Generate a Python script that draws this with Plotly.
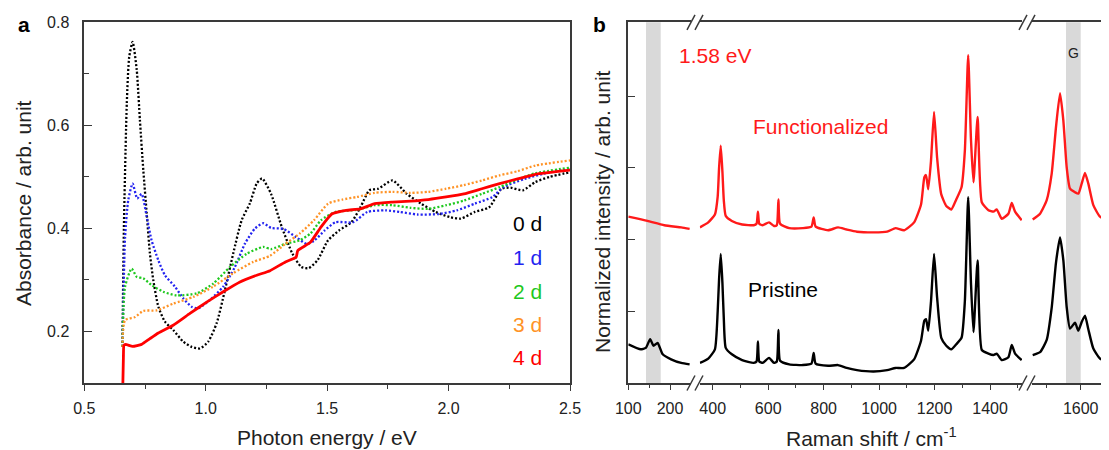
import plotly.graph_objects as go

# page body adds an 8px margin; figure is sized so that it fills the 1109x450 window exactly
OFF = 8
W, H = 1109 - OFF, 450 - OFF

# ---------------- Panel a data (Photon energy / eV vs Absorbance) ----------------
e0 = [0.657, 0.663, 0.675, 0.685, 0.699, 0.716, 0.729, 0.743, 0.757, 0.77, 0.784, 0.805, 0.832, 0.866, 0.908,
      0.942, 0.976, 1.01, 1.045, 1.079, 1.113, 1.148, 1.182, 1.21, 1.232, 1.269, 1.313, 1.357, 1.394, 1.424, 1.46,
      1.504, 1.549, 1.6, 1.637, 1.674, 1.71, 1.769, 1.828, 1.887, 1.946, 2.005, 2.05, 2.108, 2.167, 2.218, 2.255,
      2.306, 2.357, 2.416, 2.5]
a0 = [0.17, 0.40, 0.643, 0.733, 0.762, 0.707, 0.61, 0.513, 0.429, 0.352, 0.3, 0.248, 0.219, 0.203, 0.18,
      0.17, 0.167, 0.18, 0.216, 0.28, 0.351, 0.416, 0.449, 0.487, 0.497, 0.467, 0.403, 0.351, 0.325, 0.323, 0.338,
      0.377, 0.396, 0.412, 0.441, 0.474, 0.477, 0.493, 0.467, 0.448, 0.432, 0.422, 0.419, 0.432, 0.441, 0.477, 0.479,
      0.474, 0.49, 0.5, 0.509]

e1 = [0.657, 0.668, 0.681, 0.699, 0.718, 0.736, 0.757, 0.777, 0.805, 0.832, 0.873, 0.908, 0.942, 0.969, 1.017,
      1.072, 1.12, 1.162, 1.203, 1.237, 1.269, 1.32, 1.372, 1.416, 1.446, 1.49, 1.534, 1.607, 1.666,
      1.74, 1.799, 1.872, 1.96, 2.034, 2.108, 2.181, 2.225, 2.313, 2.416, 2.5]
a1 = [0.17, 0.384, 0.455, 0.487, 0.458, 0.467, 0.423, 0.377, 0.338, 0.309, 0.287, 0.264, 0.248, 0.245, 0.261,
      0.287, 0.325, 0.371, 0.4, 0.41, 0.401, 0.399, 0.383, 0.37, 0.376, 0.396, 0.412, 0.412, 0.432,
      0.435, 0.432, 0.427, 0.428, 0.435, 0.448, 0.461, 0.48, 0.496, 0.509, 0.515]

e2 = [0.657, 0.668, 0.695, 0.716, 0.743, 0.777, 0.825, 0.88, 0.963, 1.031, 1.1, 1.169, 1.237,
      1.269, 1.328, 1.387, 1.431, 1.475, 1.534, 1.622, 1.696, 1.769, 1.843, 1.916, 1.99, 2.063, 2.137, 2.21,
      2.284, 2.357, 2.5]
a2 = [0.17, 0.287, 0.322, 0.306, 0.303, 0.29, 0.277, 0.27, 0.274, 0.293, 0.325, 0.351, 0.364,
      0.36, 0.37, 0.377, 0.39, 0.416, 0.432, 0.436, 0.445, 0.445, 0.44, 0.438, 0.445, 0.454, 0.467, 0.48,
      0.495, 0.507, 0.518]

e3 = [0.657, 0.668, 0.709, 0.743, 0.798, 0.866, 0.949, 1.031, 1.113, 1.196, 1.265, 1.328, 1.387,
      1.446, 1.504, 1.563, 1.622, 1.696, 1.769, 1.843, 1.916, 1.99, 2.063, 2.137, 2.21, 2.284, 2.357, 2.5]
a3 = [0.17, 0.222, 0.228, 0.24, 0.241, 0.254, 0.267, 0.287, 0.313, 0.335, 0.347, 0.37, 0.39,
      0.416, 0.448, 0.456, 0.461, 0.469, 0.471, 0.469, 0.471, 0.477, 0.484, 0.493, 0.503, 0.511, 0.522, 0.532]

e4 = [0.658, 0.661, 0.663, 0.67, 0.699, 0.736, 0.77, 0.805, 0.866, 0.935, 1.004, 1.072, 1.141, 1.21, 1.265,
      1.328, 1.372, 1.379, 1.431, 1.475, 1.519, 1.578, 1.637, 1.696, 1.769, 1.843, 1.916, 1.99, 2.063, 2.137,
      2.21, 2.284, 2.357, 2.5]
a4 = [0.08, 0.15, 0.173, 0.175, 0.171, 0.175, 0.186, 0.197, 0.212, 0.235, 0.257, 0.277, 0.296, 0.309, 0.318,
      0.335, 0.344, 0.357, 0.373, 0.403, 0.428, 0.435, 0.438, 0.448, 0.451, 0.453, 0.456, 0.461, 0.467, 0.477,
      0.487, 0.496, 0.505, 0.513]

day_labels = ["0 d", "1 d", "2 d", "3 d", "4 d"]
day_colors = ["#000000", "#2323f0", "#1ec81e", "#ff9326", "#ff0000"]
label_y = [0.41, 0.344, 0.278, 0.214, 0.15]

# ---------------- Panel b data (Raman shift / cm-1, broken axis) ----------------
s1_x_fun = [100, 146, 186.3, 226.9, 247]
s1_y_fun = [2.32, 2.26, 2.2, 2.17, 2.15]
s1_x_pri = [100, 129.7, 142, 152.5, 160.4, 170.3, 182.5, 202.6, 226.9, 247]
s1_y_pri = [0.54, 0.47, 0.49, 0.61, 0.52, 0.56, 0.4, 0.33, 0.28, 0.26]

s2_x = [354, 384, 408, 418, 423, 429, 435, 440, 447, 469, 506, 548, 558, 563, 568, 580, 603, 621, 631, 637, 643,
        676, 725, 756, 764, 771, 816, 852, 883, 920, 980, 1029, 1059, 1090, 1126, 1151, 1163, 1169, 1177, 1187,
        1198, 1209, 1224, 1242, 1260, 1278, 1297, 1309, 1321, 1331, 1340, 1355, 1370, 1394, 1412, 1424,
        1442, 1466, 1478, 1490, 1514]
s2_y_fun = [2.17, 2.24, 2.35, 2.6, 3.0, 3.31, 2.95, 2.55, 2.33, 2.26, 2.21, 2.2, 2.22, 2.39, 2.22, 2.2, 2.24, 2.19,
            2.2, 2.56, 2.22, 2.16, 2.16, 2.18, 2.31, 2.18, 2.13, 2.17, 2.14, 2.11, 2.1, 2.11, 2.16, 2.13, 2.24, 2.49,
            2.87, 2.9, 2.7, 3.1, 3.78, 3.14, 2.63, 2.47, 2.42, 2.56, 2.73, 3.24, 4.57, 3.4, 2.8, 3.71, 2.52, 2.41,
            2.39, 2.42, 2.29, 2.36, 2.51, 2.39, 2.27]
s2_y_pri = [0.28, 0.34, 0.47, 1.0, 1.45, 1.8, 1.4, 0.9, 0.49, 0.4, 0.32, 0.28, 0.3, 0.58, 0.3, 0.28, 0.35, 0.28,
            0.3, 0.74, 0.31, 0.26, 0.25, 0.27, 0.42, 0.27, 0.24, 0.25, 0.21, 0.18, 0.16, 0.18, 0.21, 0.21, 0.33, 0.59,
            0.87, 0.89, 0.73, 1.14, 1.8, 1.19, 0.63, 0.52, 0.47, 0.54, 0.63, 1.14, 2.59, 1.4, 0.71, 1.71, 0.46, 0.41,
            0.39, 0.41, 0.32, 0.36, 0.53, 0.41, 0.32]

s3_x = [1530.8, 1541.4, 1551.0, 1558.2, 1564.4, 1570.2, 1575.0, 1579.8, 1584.6, 1591.8, 1596.6, 1601.4, 1606.2,
        1611.0, 1618.2, 1627.8, 1640.8]
s3_y_fun = [2.28, 2.36, 2.55, 2.92, 3.57, 4.04, 3.66, 3.01, 2.71, 2.66, 2.64, 2.78, 2.93, 2.78, 2.48, 2.32, 2.26]
s3_y_pri = [0.39, 0.43, 0.6, 1.05, 1.68, 2.03, 1.71, 1.06, 0.76, 0.84, 0.73, 0.85, 0.94, 0.75, 0.48, 0.34, 0.29]

band_low = [142.4, 177.7]
band_g = [1578.8, 1600.0]

FONT = "Liberation Sans, Arial, sans-serif"
AX = "#3a3a3a"


def px(x):
    """window pixel x -> paper fraction"""
    return (x - OFF) / W


def py(y):
    """window pixel y -> paper fraction"""
    return 1 - (y - OFF) / H


fig = go.Figure()

# panel a traces
series_a = [(e0, a0), (e1, a1), (e2, a2), (e3, a3)]
for (ex, ay), c in zip(series_a, day_colors[:4]):
    fig.add_trace(go.Scatter(x=ex, y=ay, mode="lines", xaxis="x", yaxis="y",
                             line=dict(color=c, width=2.3, dash="2px,2px", shape="spline", smoothing=0.6),
                             showlegend=False, hoverinfo="skip"))
fig.add_trace(go.Scatter(x=e4, y=a4, mode="lines", xaxis="x", yaxis="y",
                         line=dict(color=day_colors[4], width=2.8, shape="spline", smoothing=0.4),
                         showlegend=False, hoverinfo="skip"))

# panel b traces
RED = "#ff1a1a"
BLK = "#000000"
lw = 2.4
for xs, ys, c, xa, ya in [
    (s1_x_fun, s1_y_fun, RED, "x2", "y2"), (s1_x_pri, s1_y_pri, BLK, "x2", "y2"),
    (s2_x, s2_y_fun, RED, "x3", "y2"), (s2_x, s2_y_pri, BLK, "x3", "y2"),
    (s3_x, s3_y_fun, RED, "x4", "y3"), (s3_x, s3_y_pri, BLK, "x4", "y3"),
]:
    fig.add_trace(go.Scatter(x=xs, y=ys, mode="lines", xaxis=xa, yaxis=ya,
                             line=dict(color=c, width=lw, shape="spline", smoothing=0.5),
                             showlegend=False, hoverinfo="skip"))

tickfont = dict(family=FONT, size=16, color="#222")

ax_common = dict(showline=True, linecolor=AX, linewidth=1.5, showgrid=False, zeroline=False,
                 tickcolor=AX, tickwidth=1.3, tickfont=tickfont, automargin=False)

# panel a axes
fig.update_layout(
    xaxis=dict(domain=[px(84.3), px(570)], range=[0.5, 2.5], anchor="y", mirror=True,
               ticks="outside", ticklen=6, tick0=0.5, dtick=0.5, tickformat=".1f",
               minor=dict(dtick=0.25, ticks="outside", ticklen=4, tickcolor=AX, tickwidth=1.2),
               ticklabelstandoff=4, **ax_common),
    yaxis=dict(domain=[py(383), py(22.3)], range=[0.1, 0.8], anchor="x", mirror=True,
               ticks="inside", ticklen=8, tick0=0, dtick=0.2, tickformat=".1f",
               minor=dict(dtick=0.1, ticks="inside", ticklen=5, tickcolor=AX, tickwidth=1.2),
               ticklabelstandoff=10, **ax_common),
)

# panel b axes (broken x axis: three segments)
yb_range = [0, 5.03]
fig.update_layout(
    xaxis2=dict(domain=[px(628.3), px(690.7)], range=[100, 249.6], anchor="y2", mirror=True,
                ticks="outside", ticklen=5, tick0=0, dtick=100,
                minor=dict(dtick=50, ticks="outside", ticklen=3, tickcolor=AX, tickwidth=1.2),
                ticklabelstandoff=5, **ax_common),
    xaxis3=dict(domain=[px(699.8), px(1022)], range=[353.5, 1515], anchor="y2", mirror=True,
                ticks="outside", ticklen=5, tick0=0, dtick=200,
                minor=dict(dtick=100, ticks="outside", ticklen=3, tickcolor=AX, tickwidth=1.2),
                ticklabelstandoff=5, **ax_common),
    xaxis4=dict(domain=[px(1032), 1.0], range=[1529.8, 1640.8], anchor="y2", mirror=True,
                ticks="outside", ticklen=5, tick0=0, dtick=100,
                minor=dict(dtick=50, ticks="outside", ticklen=3, tickcolor=AX, tickwidth=1.2),
                ticklabelstandoff=5, **ax_common),
    yaxis2=dict(domain=[py(383), py(22.3)], range=yb_range, anchor="x2",
                ticks="inside", ticklen=7, tickvals=[1, 2, 3, 4], showticklabels=False,
                showline=True, linecolor=AX, linewidth=1.5, showgrid=False, zeroline=False,
                tickcolor=AX, tickwidth=1.3, automargin=False),
    yaxis3=dict(domain=[py(383), py(22.3)], range=yb_range, anchor="x4", overlaying="y2", side="right",
                ticks="inside", ticklen=7, tickvals=[1, 2, 3, 4], showticklabels=False,
                showline=False, showgrid=False, zeroline=False, tickcolor=AX, tickwidth=1.3,
                automargin=False),
)

shapes = []
# grey bands in panel b
shapes.append(dict(type="rect", xref="x2", yref="y2 domain", x0=band_low[0], x1=band_low[1], y0=0, y1=1,
                   fillcolor="#d9d9d9", line=dict(width=0), layer="below"))
shapes.append(dict(type="rect", xref="x4", yref="y2 domain", x0=band_g[0], x1=band_g[1], y0=0, y1=1,
                   fillcolor="#d9d9d9", line=dict(width=0), layer="below"))
# axis break marks "//"
for bx in (687, 1019):
    for yc in (22.3, 383):
        for dx in (0, 8):
            shapes.append(dict(type="line", xref="paper", yref="paper",
                               x0=px(bx + dx), y0=py(yc + 7.5), x1=px(bx + dx + 8), y1=py(yc - 7.5),
                               line=dict(color=AX, width=1.5)))

annotations = []
# day labels for panel a
for t, c, yy in zip(day_labels, day_colors, label_y):
    annotations.append(dict(x=2.392, y=yy, xref="x", yref="y", text=t, showarrow=False, xanchor="right",
                            yanchor="middle", font=dict(family=FONT, size=21, color=c)))
# panel b texts
annotations += [
    dict(x=408, y=4.57, xref="x3", yref="y2", text="1.58 eV", showarrow=False,
         font=dict(family=FONT, size=21, color=RED)),
    dict(x=790, y=3.58, xref="x3", yref="y2", text="Functionalized", showarrow=False,
         font=dict(family=FONT, size=21, color=RED)),
    dict(x=653, y=1.31, xref="x3", yref="y2", text="Pristine", showarrow=False,
         font=dict(family=FONT, size=21, color="#000")),
    dict(x=1590, y=4.6, xref="x4", yref="y2", text="G", showarrow=False,
         font=dict(family=FONT, size=14, color="#222")),
]
# axis titles and panel letters
paper_txt = [
    (23, 203, "Absorbance / arb. unit", -90, 21, "#222"),
    (327, 437, "Photon energy / eV", 0, 21, "#222"),
    (602, 212, "Normalized intensity / arb. unit", -90, 21, "#222"),
    (871, 437, "Raman shift / cm<sup>-1</sup>", 0, 21, "#222"),
    (24, 25, "<b>a</b>", 0, 21, "#000"),
    (600, 25, "<b>b</b>", 0, 21, "#000"),
]
for x, y, t, ang, sz, col in paper_txt:
    annotations.append(dict(x=px(x), y=py(y), xref="paper", yref="paper", text=t, textangle=ang,
                            xanchor="center", yanchor="middle", showarrow=False,
                            font=dict(family=FONT, size=sz, color=col)))

fig.update_layout(width=W, height=H, margin=dict(l=0, r=0, t=0, b=0, autoexpand=False),
                  paper_bgcolor="white", plot_bgcolor="white",
                  shapes=shapes, annotations=annotations, showlegend=False)

fig.write_html("out.html")
